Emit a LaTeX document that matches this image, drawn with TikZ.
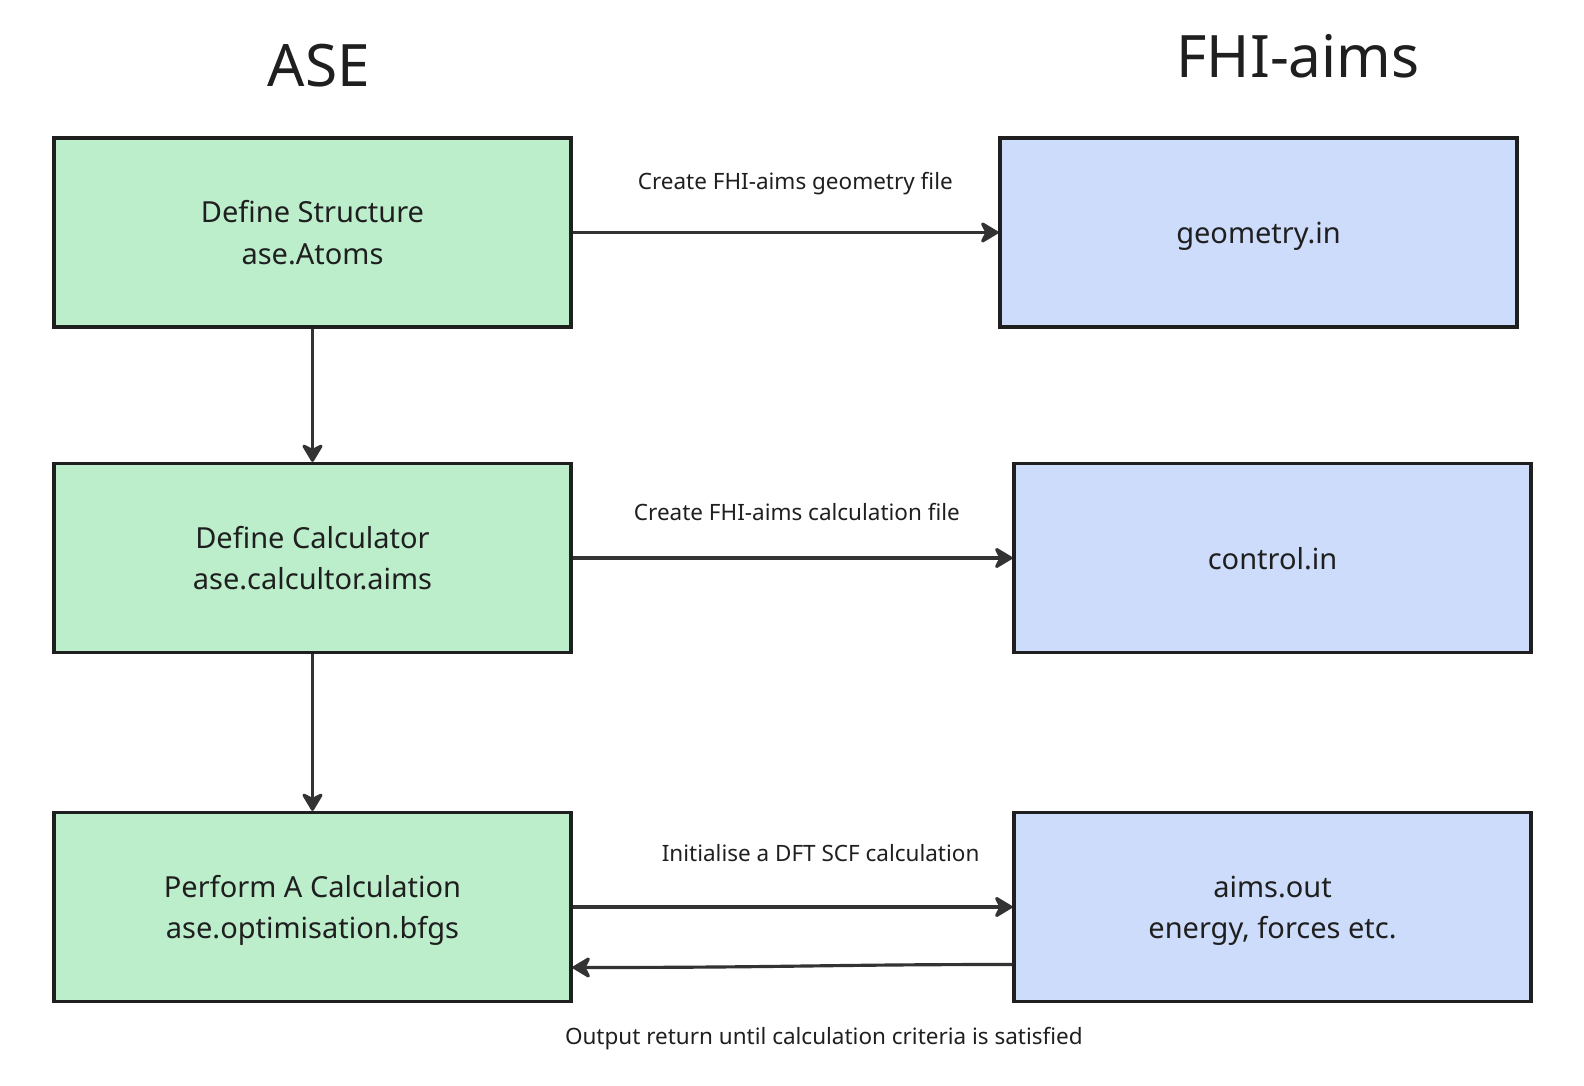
\documentclass[tikz,border=0pt]{standalone}
\usepackage{fontspec}
\setmainfont{Noto Sans}
\usetikzlibrary{arrows.meta}
\definecolor{asegreen}{RGB}{188,238,204}
\definecolor{aimsblue}{RGB}{205,220,250}
\definecolor{edgegrey}{RGB}{51,51,51}
\begin{document}
\begin{tikzpicture}[
  box/.style={draw=black!88,line width=1.9pt,minimum width=10.34cm,minimum height=3.78cm,inner sep=0pt,text depth=0pt,align=center,font=\fontsize{16.5}{23.5}\selectfont,text=black!88},
  asebox/.style={box,fill=asegreen},
  aimsbox/.style={box,fill=aimsblue},
  flow/.style={draw=edgegrey,line width=1.8pt,-{Stealth[length=0.42cm,width=0.5cm,inset=0.13cm,round]}},
  lbl/.style={font=\fontsize{12.8}{15}\selectfont,text=black!88},
  title/.style={font=\fontsize{33.3}{38}\selectfont,text=black!88}
]
\useasboundingbox (0,0) rectangle (31.68,-21.72);

% Headings
\node[title] (aseTitle) at (6.38,-1.32) {ASE};
\node[title] (aimsTitle) at (25.96,-1.12) {FHI-aims};

% ASE side
\node[asebox] (struct) at (6.25,-4.65) {Define Structure\\ase.Atoms};
\node[asebox] (calc) at (6.25,-11.16) {Define Calculator\\ase.calcultor.aims};
\node[asebox] (perf) at (6.25,-18.14) {Perform A Calculation\\ase.optimisation.bfgs};

% FHI-aims side
\node[aimsbox] (geom) at (25.17,-4.65) {geometry.in};
\node[aimsbox] (ctrl) at (25.45,-11.16) {control.in};
\node[aimsbox] (aimsout) at (25.45,-18.14) {aims.out\\energy, forces etc.};

% Workflow
\draw[flow] (struct) -- (calc);
\draw[flow] (calc) -- (perf);

% Files
\draw[flow] (struct.east) -- (geom.west) node[lbl,pos=0.523,yshift=0.97cm] {Create FHI-aims geometry file};
\draw[flow] (calc.east) -- (ctrl.west) node[lbl,pos=0.51,yshift=0.91cm] {Create FHI-aims calculation file};
\draw[flow] (perf.east) -- (aimsout.west) node[lbl,pos=0.564,yshift=1.07cm] {Initialise a DFT SCF calculation};

% Loop back
\coordinate (outA) at ([yshift=-1.15cm]aimsout.west);
\coordinate (outB) at ([yshift=-1.21cm]perf.east);
\draw[flow] (outA) .. controls (16.6,-19.29) and (15.8,-19.35) .. (outB) node[lbl,pos=0.449,yshift=-1.46cm] {Output return until calculation criteria is satisfied};
\end{tikzpicture}
\end{document}
